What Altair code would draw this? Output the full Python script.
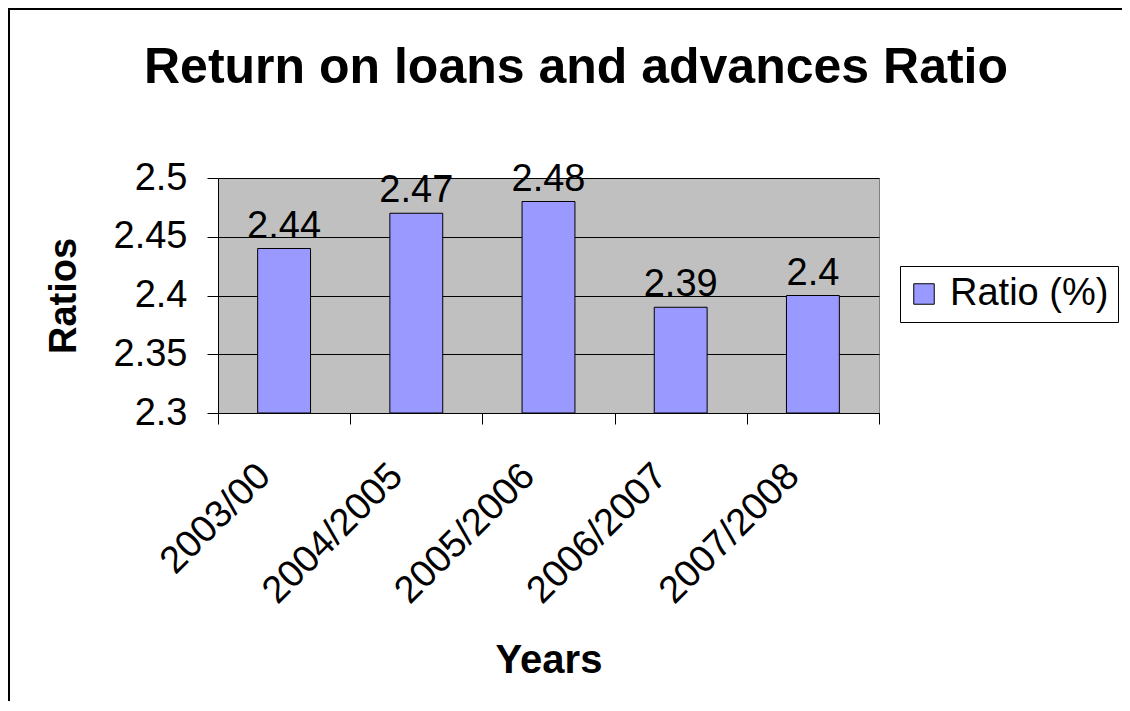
import altair as alt
import pandas as pd

years = ["2003/00", "2004/2005", "2005/2006", "2006/2007", "2007/2008"]
ratios = [2.44, 2.47, 2.48, 2.39, 2.40]
labels = ["2.44", "2.47", "2.48", "2.39", "2.4"]
series_name = "Ratio (%)"
y_ticks = [2.3, 2.35, 2.4, 2.45, 2.5]
chart_title = "Return on loans and advances Ratio"
x_title = "Years"
y_title = "Ratios"

FONT = "Arial, Liberation Sans"
W, H = 661, 235

df = pd.DataFrame({
    "year": years,
    "ratio": ratios,
    "label": labels,
    "series": [series_name] * len(years),
})

x_enc = alt.X(
    "year:N", sort=years,
    scale=alt.Scale(paddingInner=0, paddingOuter=0),
    axis=alt.Axis(
        title=x_title, labelAngle=315, labelAlign="right", labelBaseline="middle",
        labelPadding=46, labelOffset=-20, tickSize=11, tickBand="extent",
        domainColor="black", tickColor="black", domainWidth=1, tickWidth=1,
        labelFontSize=38, labelFont=FONT, labelColor="black",
        titleFontSize=40, titleFont=FONT, titleFontWeight="bold", titleColor="black",
        titleX=330.5, titleY=259, titleBaseline="alphabetic", titleAlign="center",
        grid=False, labelOverlap=False,
    ),
)

y_enc = alt.Y(
    "ratio:Q",
    scale=alt.Scale(domain=[2.3, 2.5], zero=False, nice=False),
    axis=alt.Axis(
        values=y_ticks, format="~g", title=y_title, tickSize=11, labelPadding=20,
        grid=True, gridColor="black", gridWidth=1, gridOpacity=1,
        domainColor="black", tickColor="black", domainWidth=1, tickWidth=1,
        labelFontSize=38, labelFont=FONT, labelColor="black",
        titleFontSize=38, titleFont=FONT, titleFontWeight="bold", titleColor="black",
        titleAngle=270, titleX=-143, titleY=117.5, titleBaseline="alphabetic",
        titleAlign="center", labelOverlap=False,
    ),
)

base = alt.Chart(df)

bars = base.mark_bar(
    width=alt.RelativeBandSize(0.4), stroke="black", strokeWidth=1
).encode(
    x=x_enc,
    y=y_enc,
    y2=alt.datum(2.3),
    color=alt.Color(
        "series:N",
        scale=alt.Scale(range=["#9999FF"]),
        legend=alt.Legend(
            title=None, orient="none", legendX=682, legendY=88,
            padding=9, strokeColor="black", fillColor="white",
            symbolType="square", symbolSize=420, symbolStrokeColor="black",
            symbolStrokeWidth=1, symbolOffset=-4, labelOffset=7,
            labelFontSize=38, labelFont=FONT, labelColor="black",
        ),
    ),
)

values_text = base.mark_text(
    dy=-11, baseline="alphabetic", align="center", fontSize=38, font=FONT, color="black"
).encode(
    x=alt.X("year:N", sort=years),
    y=alt.Y("ratio:Q"),
    text="label:N",
)

one = pd.DataFrame({"t": [chart_title]})

title_layer = alt.Chart(one).mark_text(
    fontSize=50, fontWeight="bold", font=FONT, align="center",
    baseline="alphabetic", color="black"
).encode(text="t:N", x=alt.value(358), y=alt.value(-95))

top_rule = alt.Chart(one).mark_rule(color="black", strokeWidth=2).encode(
    x=alt.value(-210), x2=alt.value(915), y=alt.value(-169)
)
left_rule = alt.Chart(one).mark_rule(color="black", strokeWidth=2).encode(
    x=alt.value(-209), y=alt.value(-170), y2=alt.value(540)
)

chart = alt.layer(bars, values_text, title_layer, top_rule, left_rule).properties(
    width=W, height=H,
    padding={"left": 210, "top": 170, "right": 243, "bottom": 288},
    autosize=alt.AutoSizeParams(type="none"),
).configure_view(
    fill="#C0C0C0", stroke="#808080", strokeWidth=1
)

chart.save("out.html", embed_options={"renderer": "svg", "actions": False})
